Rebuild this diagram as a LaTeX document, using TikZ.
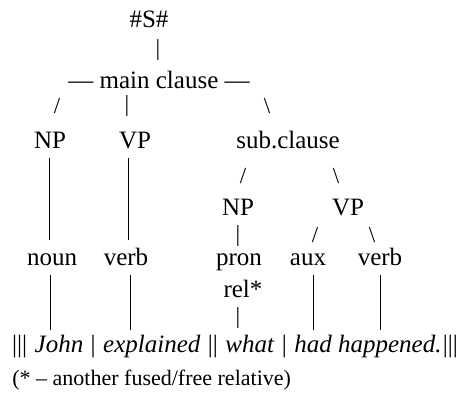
\documentclass[tikz,border=0pt]{standalone}
\usepackage{fontspec}
\setmainfont{Liberation Serif}
\tikzset{
	word/.style={anchor=base, inner sep=0pt, font=\fontsize{12.5}{15}\selectfont},
	tick/.style={anchor=center, inner sep=0pt, font=\fontsize{11.5}{14}\selectfont},
	stem/.style={line width=0.5pt}
}

\begin{document}
\begin{tikzpicture}[x=0.5pt, y=-0.5pt]
			%%%%% START %%%%%
			\useasboundingbox (0,0) rectangle (467,409);
			
			\node[word] (s) at (149,27) {\#S\#};
			\node[tick] (t0) at (158,50) {|};
			\node[word] (main) at (159,88) {--- main clause ---};
			
			\node[tick] (t1) at (57,106) {/};
			\node[tick] (t2) at (127,106) {|};
			\node[tick] (t3) at (267,106) {\textbackslash};
			
			\node[word] (np1) at (50,148) {NP};
			\node[word] (vp1) at (135,148) {VP};
			\node[word] (sub) at (288,148) {sub.clause};
			
			\node[tick] (t4) at (243,176) {/};
			\node[tick] (t5) at (336,176) {\textbackslash};
			
			\node[word] (np2) at (238,215) {NP};
			\node[word] (vp2) at (348,215) {VP};
			
			\node[tick] (t6) at (238,236) {|};
			\node[tick] (t7) at (315,235) {/};
			\node[tick] (t8) at (372,235) {\textbackslash};
			
			\node[word] (noun) at (52,265) {noun};
			\node[word] (verb1) at (126,265) {verb};
			\node[word] (pron) at (239,265) {pron};
			\node[word] (aux) at (308,265) {aux};
			\node[word] (verb2) at (380,265) {verb};
			\node[word] (rel) at (243,297) {rel*};
			\node[tick] (t9) at (238,318) {|};
			
			\node[word] (words) at (235,352) {|||\kern0.6pt{} \textit{John}\kern0.6pt{} |\kern0.6pt{} \textit{explained}\kern0.6pt{} ||\kern0.6pt{} \textit{what}\kern0.6pt{} |\kern0.6pt{} \textit{had happened.}\kern0.6pt|||};
			\node[word, anchor=base west, font=\fontsize{11}{13}\selectfont] (note) at (12,385) {(* -- another fused/free relative)};
			
			% long stems
			\draw[stem, shorten <=5pt, shorten >=12.5pt] ([xshift=-0.5pt]np1.base) -- ([xshift=-0.5pt]np1.base |- noun.base);
			\draw[stem, shorten <=5pt, shorten >=12.5pt] ([xshift=-3.5pt]vp1.base) -- ([xshift=-3.5pt]vp1.base |- verb1.base);
			\draw[stem, shorten <=5pt, shorten >=11pt] ([xshift=-1pt]noun.base) -- ([xshift=-1pt]noun.base |- words.base);
			\draw[stem, shorten <=5pt, shorten >=11pt] ([xshift=2pt]verb1.base) -- ([xshift=2pt]verb1.base |- words.base);
			\draw[stem, shorten <=5pt, shorten >=11pt] ([xshift=2.5pt]aux.base) -- ([xshift=2.5pt]aux.base |- words.base);
			\draw[stem, shorten <=5pt, shorten >=11pt] (verb2.base) -- (verb2.base |- words.base);
			
			%%%%% END %%%%%
\end{tikzpicture}
\end{document}
